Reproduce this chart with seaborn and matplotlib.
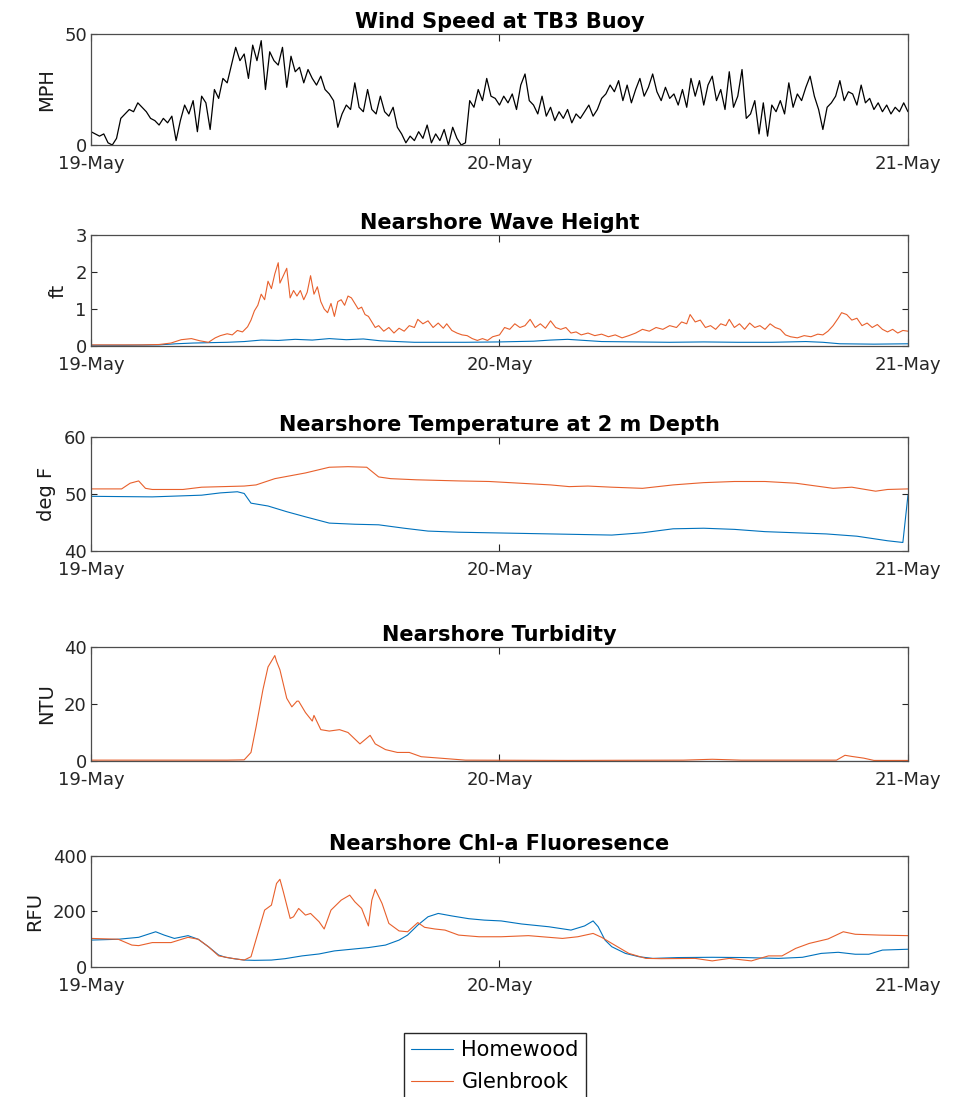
import numpy as np
import pandas as pd
import matplotlib
matplotlib.use('Agg')
import matplotlib.pyplot as plt
import matplotlib.dates as mdates
import seaborn as sns

# ---- data (hours after 19-May 00:00) ----
START = pd.Timestamp('2019-05-19')

# wind speed, one reading every 15 minutes
WIND_MPH = [
    6, 5, 4, 5,  1, 0, 3, 12,  14, 16, 15, 19,  17, 15, 12, 11,
    9, 12, 10, 13,  2, 11, 18, 14,  20, 6, 22, 19,  7, 25, 21, 30,
    28, 36, 44, 38,  41, 30, 45, 38,  47, 25, 42, 38,  36, 44, 26, 40,
    33, 35, 28, 34,  30, 27, 31, 25,  23, 20, 8, 14,  18, 16, 28, 17,
    15, 25, 16, 14,  22, 15, 13, 17,  8, 5, 1, 4,  2, 6, 3, 9,
    1, 5, 2, 7,  0, 8, 3, 0,  1, 20, 17, 25,  20, 30, 22, 21,
    18, 22, 19, 23,  16, 27, 32, 20,  18, 14, 22, 13,  17, 11, 15, 12,
    16, 10, 14, 12,  15, 18, 13, 16,  21, 23, 27, 24,  29, 20, 27, 19,
    25, 30, 22, 26,  32, 24, 20, 26,  21, 23, 18, 25,  17, 30, 22, 29,
    18, 27, 31, 20,  25, 16, 33, 17,  22, 34, 12, 14,  20, 5, 19, 4,
    18, 15, 20, 14,  28, 17, 23, 20,  26, 31, 22, 16,  7, 17, 19, 22,
    29, 20, 24, 23,  18, 27, 19, 21,  16, 19, 15, 18,  14, 17, 15, 19,
    15,
]
WIND_HOURS = np.arange(len(WIND_MPH)) * 0.25

GLEN_WAVE_HOURS = [
    0, 1, 2, 3, 4, 4.7, 5.3, 5.9, 6.4, 6.9, 7.3, 7.6, 8.0, 8.3, 8.6, 8.9, 9.2, 9.4,
    9.6, 9.8, 10.0, 10.2, 10.4, 10.6, 10.8, 11.0, 11.1, 11.3, 11.5, 11.7, 11.9,
    12.1, 12.3, 12.5, 12.7, 12.9, 13.1, 13.3, 13.5, 13.7, 13.9, 14.1, 14.3, 14.5,
    14.7, 14.9, 15.1, 15.3, 15.5, 15.7, 15.9, 16.1, 16.3, 16.5, 16.7, 16.9, 17.2,
    17.5, 17.8, 18.1, 18.4, 18.7, 19.0, 19.2, 19.5, 19.8, 20.1, 20.4, 20.7, 20.9,
    21.2, 21.5, 21.8, 22.1, 22.4, 22.7, 23.0, 23.3, 23.6, 24.0, 24.3, 24.6, 24.9,
    25.2, 25.5, 25.8, 26.1, 26.4, 26.7, 27.0, 27.3, 27.6, 27.9, 28.2, 28.5, 28.8,
    29.2, 29.6, 30.0, 30.4, 30.8, 31.2, 31.6, 32.0, 32.4, 32.8, 33.2, 33.6, 34.0,
    34.4, 34.7, 35.0, 35.2, 35.5, 35.8, 36.1, 36.4, 36.7, 37.0, 37.3, 37.5, 37.8,
    38.1, 38.4, 38.7, 39.0, 39.3, 39.6, 39.9, 40.2, 40.5, 40.8, 41.1, 41.5, 41.9,
    42.3, 42.7, 43.0, 43.3, 43.6, 43.9, 44.1, 44.4, 44.7, 45.0, 45.3, 45.6, 45.9,
    46.2, 46.5, 46.8, 47.1, 47.4, 47.7, 48.0,
]
GLEN_WAVE_FT = [
    0.03, 0.03, 0.03, 0.03, 0.04, 0.08, 0.17, 0.2, 0.14, 0.1, 0.22, 0.28, 0.33, 0.3,
    0.42, 0.38, 0.52, 0.7, 0.95, 1.1, 1.4, 1.25, 1.75, 1.55, 1.95, 2.25, 1.7, 1.9,
    2.1, 1.3, 1.5, 1.35, 1.5, 1.25, 1.45, 1.9, 1.4, 1.6, 1.2, 1.0, 0.9, 1.15, 0.8,
    1.2, 1.25, 1.1, 1.35, 1.3, 1.15, 1.0, 1.05, 0.85, 0.8, 0.65, 0.5, 0.55, 0.4,
    0.5, 0.35, 0.48, 0.4, 0.55, 0.5, 0.72, 0.6, 0.68, 0.5, 0.62, 0.48, 0.6, 0.42,
    0.35, 0.3, 0.28, 0.2, 0.15, 0.2, 0.15, 0.25, 0.3, 0.5, 0.45, 0.6, 0.5, 0.55,
    0.72, 0.5, 0.6, 0.48, 0.68, 0.5, 0.45, 0.5, 0.35, 0.38, 0.3, 0.35, 0.28, 0.32,
    0.25, 0.3, 0.22, 0.28, 0.35, 0.45, 0.4, 0.5, 0.45, 0.55, 0.5, 0.65, 0.6, 0.85,
    0.65, 0.7, 0.5, 0.55, 0.45, 0.6, 0.55, 0.72, 0.5, 0.6, 0.45, 0.62, 0.5, 0.55,
    0.45, 0.6, 0.5, 0.45, 0.3, 0.25, 0.22, 0.28, 0.25, 0.32, 0.3, 0.4, 0.55, 0.75,
    0.9, 0.85, 0.7, 0.75, 0.55, 0.62, 0.5, 0.58, 0.45, 0.38, 0.45, 0.35, 0.42, 0.4,
]
HOME_WAVE_HOURS = [0, 2, 4, 5, 6, 8, 9, 10, 11, 12, 13, 14, 15, 16, 17, 18, 19, 20,
                   22, 24, 26, 27, 28, 29, 30, 32, 34, 36, 38, 40, 42, 43, 44, 46, 48]
HOME_WAVE_FT = [0.02, 0.02, 0.03, 0.06, 0.08, 0.1, 0.12, 0.16, 0.15, 0.18, 0.16, 0.2,
                0.17, 0.19, 0.14, 0.12, 0.1, 0.1, 0.1, 0.11, 0.13, 0.16, 0.18, 0.15,
                0.12, 0.11, 0.1, 0.11, 0.1, 0.1, 0.12, 0.1, 0.06, 0.05, 0.06]

GLEN_TEMP_HOURS = [0, 1.8, 2.3, 2.8, 3.2, 3.6, 5.4, 6.5, 9.0, 9.7, 10.8, 12.6, 14.0,
                   15.1, 16.2, 16.9, 17.6, 19.1, 21.6, 23.4, 25.2, 27.0, 28.1, 29.2,
                   30.6, 32.4, 34.2, 36.0, 37.8, 39.6, 41.4, 43.6, 44.7, 46.1, 46.8, 48.0]
GLEN_TEMP_F = [50.9, 50.9, 51.9, 52.3, 51.0, 50.8, 50.8, 51.2, 51.4, 51.6, 52.7, 53.7,
               54.7, 54.8, 54.7, 53.0, 52.7, 52.5, 52.3, 52.2, 51.9, 51.6, 51.3, 51.4,
               51.2, 51.0, 51.6, 52.0, 52.2, 52.2, 51.9, 51.0, 51.2, 50.5, 50.8, 50.9]
HOME_TEMP_HOURS = [0, 3.6, 6.5, 7.6, 8.6, 9.0, 9.4, 10.4, 11.5, 12.6, 14.0, 15.5, 16.9,
                   18.4, 19.8, 21.6, 23.4, 25.2, 27.0, 28.8, 30.6, 32.4, 34.2, 36.0,
                   37.8, 39.6, 41.4, 43.2, 45.0, 46.8, 47.7, 48.0]
HOME_TEMP_F = [49.6, 49.5, 49.8, 50.2, 50.4, 50.1, 48.4, 47.9, 46.9, 46.0, 44.9, 44.7,
               44.6, 44.0, 43.5, 43.3, 43.2, 43.1, 43.0, 42.9, 42.8, 43.2, 43.9, 44.0,
               43.8, 43.4, 43.2, 43.0, 42.6, 41.8, 41.5, 49.8]

GLEN_TURB_HOURS = [0, 4, 8, 9.0, 9.4, 9.7, 10.1, 10.4, 10.8, 10.9, 11.1, 11.5, 11.8,
                   12.1, 12.2, 12.6, 13.0, 13.1, 13.5, 14.0, 14.6, 15.1, 15.8, 16.4,
                   16.7, 17.3, 18.0, 18.7, 19.4, 20.5, 22.0, 28, 34.8, 36.5, 38.2,
                   43.8, 44.3, 44.7, 45.4, 46.0, 48.0]
GLEN_TURB_NTU = [0.3, 0.3, 0.3, 0.4, 3, 12, 25, 33, 37, 35, 32, 22, 19, 21, 21, 17, 14,
                 16, 11, 10.5, 11, 10, 6, 9, 6, 4, 3, 3, 1.5, 1, 0.3, 0.2, 0.3, 0.6,
                 0.3, 0.3, 2, 1.6, 1, 0.2, 0.2]
HOME_TURB_HOURS = [0, 12, 24, 36, 48]
HOME_TURB_NTU = [0.1, 0.1, 0.1, 0.1, 0.1]

HOME_CHL_HOURS = [0, 1.6, 2.8, 3.8, 4.3, 4.9, 5.7, 6.3, 6.9, 7.5, 7.9, 8.5, 9.0, 9.6,
                  10.6, 11.4, 12.4, 13.4, 14.3, 15.3, 16.3, 17.3, 18.1, 18.6, 19.2,
                  19.8, 20.4, 21.2, 22.2, 23.1, 24.1, 25.3, 26.9, 28.2, 29.0, 29.5,
                  29.8, 30.2, 30.6, 31.4, 32.2, 33.0, 34.5, 36.5, 38.4, 40.4, 41.8,
                  42.9, 43.9, 44.9, 45.7, 46.5, 48.0]
HOME_CHL_RFU = [97, 100, 107, 127, 115, 103, 113, 100, 73, 43, 35, 29, 25, 24, 25, 30,
                40, 47, 58, 64, 70, 79, 97, 115, 151, 181, 193, 184, 174, 169, 166,
                155, 145, 133, 148, 166, 145, 97, 73, 49, 37, 31, 34, 35, 34, 31, 35,
                49, 53, 46, 46, 61, 64]
GLEN_CHL_HOURS = [0, 1.6, 2.4, 2.8, 3.6, 4.7, 5.7, 6.3, 6.9, 7.5, 8.3, 9.0, 9.4, 9.8,
                  10.2, 10.6, 10.9, 11.1, 11.3, 11.5, 11.7, 11.9, 12.2, 12.6, 12.9,
                  13.4, 13.7, 14.1, 14.7, 15.2, 15.5, 15.9, 16.3, 16.5, 16.7, 17.1,
                  17.5, 18.1, 18.6, 19.2, 19.6, 20.2, 20.8, 21.6, 22.8, 24.1, 25.7,
                  27.7, 28.6, 29.5, 30.0, 30.6, 31.6, 32.6, 33.5, 35.5, 36.5, 37.5,
                  38.8, 39.8, 40.6, 41.4, 42.2, 43.3, 44.2, 44.9, 46.3, 48.0]
GLEN_CHL_RFU = [103, 100, 79, 77, 88, 88, 107, 100, 73, 40, 31, 25, 37, 121, 205, 223,
                301, 316, 271, 223, 175, 181, 211, 187, 193, 163, 137, 205, 241, 259,
                235, 211, 148, 241, 280, 229, 157, 130, 127, 160, 143, 137, 133, 115,
                109, 109, 113, 103, 109, 121, 107, 85, 49, 31, 30, 31, 22, 31, 22, 40,
                40, 67, 85, 101, 127, 118, 115, 113]

SITES = ['Homewood', 'Glenbrook']
SITE_COLORS = {'Homewood': '#0072BD', 'Glenbrook': '#E8602C'}


def to_time(hours):
    return START + pd.to_timedelta(np.asarray(hours, dtype=float), unit='h')


def two_sites(home_h, home_v, glen_h, glen_v):
    home = pd.DataFrame({'time': to_time(home_h), 'value': home_v, 'site': 'Homewood'})
    glen = pd.DataFrame({'time': to_time(glen_h), 'value': glen_v, 'site': 'Glenbrook'})
    return pd.concat([home, glen], ignore_index=True)


sns.set_theme(
    style='white',
    rc={
        'xtick.direction': 'in',
        'ytick.direction': 'in',
        'xtick.top': True,
        'ytick.right': True,
        'xtick.bottom': True,
        'ytick.left': True,
        'xtick.major.size': 5,
        'ytick.major.size': 4,
        'axes.edgecolor': '#4d4d4d',
        'axes.linewidth': 0.9,
        'xtick.color': '#262626',
        'ytick.color': '#262626',
        'text.color': 'black',
        'axes.labelcolor': '#1a1a1a',
    }
)
plt.rcParams['font.family'] = ['DejaVu Sans']

fig = plt.figure(figsize=(9.6, 10.97), dpi=100)

boxes = [
    (0.0948, 0.8678, 0.851, 0.1012),
    (0.0948, 0.6846, 0.851, 0.1012),
    (0.0948, 0.4977, 0.851, 0.1039),
    (0.0948, 0.3063, 0.851, 0.1039),
    (0.0948, 0.1185, 0.851, 0.1012),
]
axes = [fig.add_axes(b) for b in boxes]

wind_df = pd.DataFrame({'time': to_time(WIND_HOURS), 'value': WIND_MPH})
sns.lineplot(data=wind_df, x='time', y='value', color='black', linewidth=0.9,
             errorbar=None, ax=axes[0])

panels = [
    two_sites(HOME_WAVE_HOURS, HOME_WAVE_FT, GLEN_WAVE_HOURS, GLEN_WAVE_FT),
    two_sites(HOME_TEMP_HOURS, HOME_TEMP_F, GLEN_TEMP_HOURS, GLEN_TEMP_F),
    two_sites(HOME_TURB_HOURS, HOME_TURB_NTU, GLEN_TURB_HOURS, GLEN_TURB_NTU),
    two_sites(HOME_CHL_HOURS, HOME_CHL_RFU, GLEN_CHL_HOURS, GLEN_CHL_RFU),
]
for ax, df in zip(axes[1:], panels):
    sns.lineplot(data=df, x='time', y='value', hue='site', hue_order=SITES,
                 palette=SITE_COLORS, linewidth=0.8, errorbar=None, ax=ax,
                 legend=(ax is axes[-1]))

titles = ['Wind Speed at TB3 Buoy', 'Nearshore Wave Height',
          'Nearshore Temperature at 2 m Depth', 'Nearshore Turbidity',
          'Nearshore Chl-a Fluoresence']
ylabels = ['MPH', 'ft', 'deg F', 'NTU', 'RFU']
ylims = [(0, 50), (0, 3), (40, 60), (0, 40), (0, 400)]
yticks = [[0, 50], [0, 1, 2, 3], [40, 50, 60], [0, 20, 40], [0, 200, 400]]

for ax, t, yl, lim, yt in zip(axes, titles, ylabels, ylims, yticks):
    ax.set_title(t, fontsize=15, fontweight='bold', pad=4)
    ax.set_ylabel(yl, fontsize=14, labelpad=6)
    ax.set_xlabel('')
    ax.set_ylim(*lim)
    ax.set_yticks(yt)
    ax.set_xlim(START, START + pd.Timedelta(hours=48))
    ax.set_xticks(to_time([0, 24, 48]))
    ax.xaxis.set_major_formatter(mdates.DateFormatter('%d-%b'))
    ax.tick_params(axis='both', labelsize=13, width=0.8)
    ax.tick_params(axis='x', pad=7)
    ax.tick_params(axis='y', pad=3)
    for s in ax.spines.values():
        s.set_visible(True)

handles, labels = axes[-1].get_legend_handles_labels()
axes[-1].get_legend().remove()
fig.legend(handles, labels, loc='upper left', bbox_to_anchor=(0.421, 0.0583),
           bbox_transform=fig.transFigure, fontsize=15, frameon=True,
           fancybox=False, edgecolor='#262626', framealpha=1, borderaxespad=0,
           handlelength=2.0, borderpad=0.35, labelspacing=0.55, handletextpad=0.4)

fig.savefig('out.png', dpi=100, facecolor='white')
